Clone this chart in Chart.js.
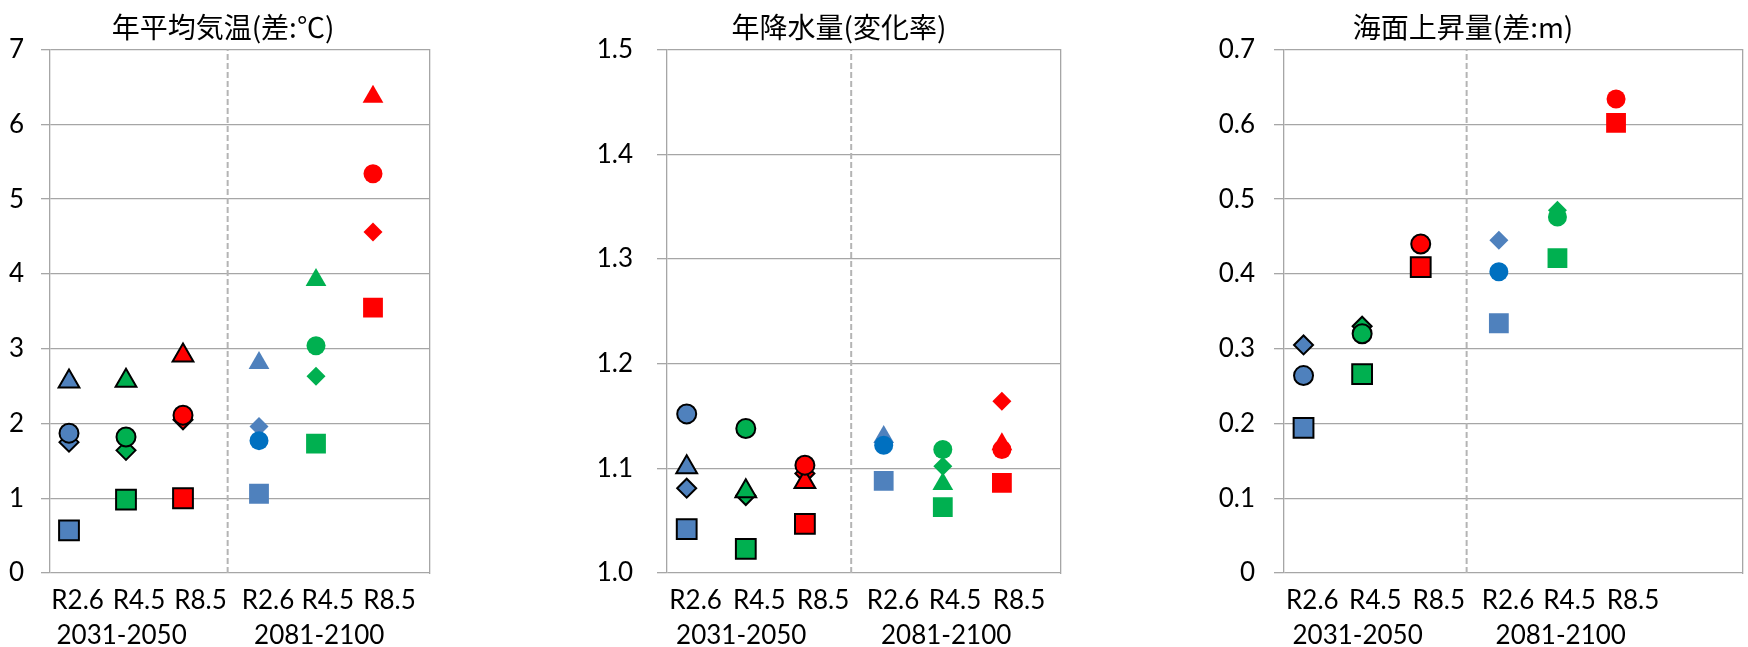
<!DOCTYPE html>
<html lang="ja">
<head>
<meta charset="utf-8">
<script src="https://cdn.jsdelivr.net/npm/chart.js@4"></script>
<style>
html, body { margin: 0; padding: 0; background: #fff; overflow: hidden; width: 1748px; height: 647px; }
canvas { position: absolute; top: 0; }
</style>
</head>
<body>
<canvas id="temp" width="446" height="647" style="left:0px"></canvas>
<canvas id="rain" width="498" height="647" style="left:590px"></canvas>
<canvas id="sea" width="599" height="647" style="left:1160px"></canvas>
<script>
// シナリオ・期間のラベル
const scenarios = ['R2.6', 'R4.5', 'R8.5', 'R2.6', 'R4.5', 'R8.5'];
const periods = ['2031-2050', '2081-2100'];

// 年平均気温(差:℃)
const tempSquare   = [0.57, 0.98, 1.00, 1.06, 1.73, 3.55];
const tempCircle   = [1.87, 1.82, 2.11, 1.77, 3.04, 5.34];
const tempTriangle = [2.56, 2.57, 2.91, 2.81, 3.92, 6.37];
const tempDiamond  = [1.75, 1.64, 2.05, 1.96, 2.63, 4.56];

// 年降水量(変化率)
const rainSquare   = [1.042, 1.023, 1.047, 1.088, 1.063, 1.086];
const rainCircle   = [1.152, 1.138, 1.103, 1.122, 1.118, 1.118];
const rainTriangle = [1.101, 1.078, 1.087, 1.130, 1.085, 1.123];
const rainDiamond  = [1.081, 1.074, 1.095, 1.125, 1.102, 1.164];

// 海面上昇量(差:m)
const seaSquare  = [0.194, 0.266, 0.409, 0.334, 0.421, 0.602];
const seaCircle  = [0.264, 0.320, 0.440, 0.403, 0.476, 0.634];
const seaDiamond = [0.305, 0.330, null, 0.445, 0.485, null];

// 横軸上の位置(マーカー、ラベル、区切り線)
const markerX = [1, 4, 7, 11, 14, 17];
const scenarioLabelX = [1.45, 4.68, 7.92, 11.47, 14.62, 17.87];
const periodLabelX = [3.77, 14.17];
const dividerX = 9.35;

const BLUE = '#4F81BD', DARKBLUE = '#0070C0', GREEN = '#00B050', RED = '#FF0000';
const pointColors = [BLUE, GREEN, RED, BLUE, GREEN, RED];
const circleColors = [BLUE, GREEN, RED, DARKBLUE, GREEN, RED];
// 2031-2050は黒枠あり、2081-2100は枠なし
const borderWidths = [2, 2, 2, 0, 0, 0];
const GRID = '#a6a6a6';
const labelFont = { family: 'Lato, "Noto Sans", sans-serif', size: 26 };

function markerSet(values, style, radius, colors, order) {
    return {
        data: values.map((v, i) => ({ x: markerX[i], y: v })),
        pointStyle: style,
        pointRadius: radius,
        pointBackgroundColor: colors,
        pointBorderColor: '#000',
        pointBorderWidth: borderWidths,
        order: order
    };
}

function makeChart(id, p) {
    const datasets = [];
    if (p.square) datasets.push(markerSet(p.square, 'rect', 14, pointColors, 0));
    if (p.circle) datasets.push(markerSet(p.circle, 'circle', 9.5, circleColors, 1));
    if (p.triangle) datasets.push(markerSet(p.triangle, 'triangle', 12, pointColors, 2));
    if (p.diamond) datasets.push(markerSet(p.diamond, 'rectRot', 9.5, pointColors, 3));
    // 期間の区切り線
    datasets.push({
        data: [{ x: dividerX, y: p.yMin }, { x: dividerX, y: p.yMax }],
        showLine: true,
        borderColor: '#b4b4b4',
        borderWidth: 2,
        borderDash: [6, 3],
        pointRadius: 0,
        order: 10
    });

    return new Chart(document.getElementById(id), {
        type: 'scatter',
        data: { datasets },
        options: {
            responsive: false,
            animation: false,
            layout: { padding: { left: p.padLeft, right: 0, top: 0, bottom: 0 } },
            plugins: {
                legend: { display: false },
                tooltip: { enabled: false },
                title: {
                    display: true,
                    text: p.title,
                    color: '#000',
                    font: { family: '"Noto Sans CJK JP"', size: 28, weight: 'normal' },
                    padding: { top: 11, bottom: 5 }
                }
            },
            scales: {
                x: {
                    type: 'linear', position: 'bottom', min: 0, max: p.xMax,
                    grid: { display: false, drawTicks: false },
                    border: { display: false },
                    afterBuildTicks: s => { s.ticks = scenarioLabelX.map(v => ({ value: v })); },
                    afterFit: s => { s.height = 43; },
                    ticks: {
                        autoSkip: false, maxRotation: 0, padding: 12, color: '#000', font: labelFont,
                        callback: (v, i) => scenarios[i]
                    }
                },
                x2: {
                    type: 'linear', position: 'bottom', min: 0, max: p.xMax,
                    grid: { display: false, drawTicks: false },
                    border: { display: false },
                    afterBuildTicks: s => { s.ticks = periodLabelX.map(v => ({ value: v })); },
                    afterFit: s => { s.height = 31; },
                    ticks: {
                        autoSkip: false, maxRotation: 0, padding: 4, color: '#000', font: labelFont,
                        callback: (v, i) => periods[i]
                    }
                },
                y: {
                    position: 'left', min: p.yMin, max: p.yMax,
                    afterFit: s => { s.width = p.yWidth; },
                    ticks: { stepSize: p.yStep, padding: p.yPad, color: '#000', font: labelFont, callback: p.yFmt },
                    grid: { color: GRID, lineWidth: 1.3, tickLength: p.tickLen },
                    border: { color: GRID, width: 1.3 }
                },
                y2: {
                    position: 'right', min: p.yMin, max: p.yMax,
                    afterFit: s => { s.width = p.rightWidth; },
                    ticks: { display: false },
                    grid: { display: false, drawTicks: false },
                    border: { color: GRID, width: 1.3 }
                }
            }
        }
    });
}

makeChart('temp', {
    title: '年平均気温(差:℃)',
    square: tempSquare, circle: tempCircle, triangle: tempTriangle, diamond: tempDiamond,
    yMin: 0, yMax: 7, yStep: 1, yFmt: v => String(v),
    xMax: 20, padLeft: 0, yWidth: 50, rightWidth: 0, yPad: 17, tickLen: 9
});

makeChart('rain', {
    title: '年降水量(変化率)',
    square: rainSquare, circle: rainCircle, triangle: rainTriangle, diamond: rainDiamond,
    yMin: 1.0, yMax: 1.5, yStep: 0.1, yFmt: v => v.toFixed(1),
    xMax: 20, padLeft: 0, yWidth: 77, rightWidth: 27, yPad: 24, tickLen: 10
});

makeChart('sea', {
    title: '海面上昇量(差:m)',
    square: seaSquare, circle: seaCircle, diamond: seaDiamond,
    yMin: 0, yMax: 0.7, yStep: 0.1, yFmt: v => (v === 0 ? '0' : v.toFixed(1)),
    xMax: 23.5, padLeft: 7, yWidth: 117, rightWidth: 0, yPad: 19, tickLen: 10
});
</script>
</body>
</html>
